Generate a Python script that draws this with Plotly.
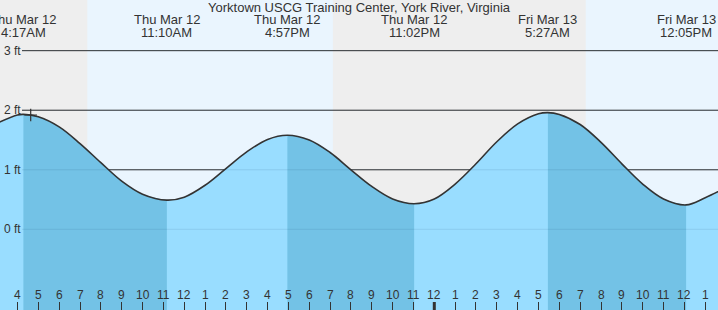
import plotly.graph_objects as go
import pandas as pd

# ---------------- data ----------------
title = "Yorktown USCG Training Center, York River, Virginia"

curve_times = [
    "2026-03-12 03:00", "2026-03-12 04:00", "2026-03-12 04:17", "2026-03-12 05:00",
    "2026-03-12 06:00", "2026-03-12 07:00", "2026-03-12 08:00", "2026-03-12 09:00",
    "2026-03-12 10:00", "2026-03-12 11:10", "2026-03-12 12:00", "2026-03-12 13:00",
    "2026-03-12 14:00", "2026-03-12 15:00", "2026-03-12 16:00", "2026-03-12 16:57",
    "2026-03-12 18:00", "2026-03-12 19:00", "2026-03-12 20:00", "2026-03-12 21:00",
    "2026-03-12 22:00", "2026-03-12 23:02", "2026-03-13 00:00", "2026-03-13 01:00",
    "2026-03-13 02:00", "2026-03-13 03:00", "2026-03-13 04:00", "2026-03-13 05:00",
    "2026-03-13 05:27", "2026-03-13 06:00", "2026-03-13 07:00", "2026-03-13 08:00",
    "2026-03-13 09:00", "2026-03-13 10:00", "2026-03-13 11:00", "2026-03-13 12:05",
    "2026-03-13 13:00", "2026-03-13 14:00",
]
curve_ft = [
    1.78, 1.92, 1.93, 1.89,
    1.72, 1.44, 1.12, 0.81,
    0.59, 0.49, 0.54, 0.74,
    1.02, 1.30, 1.51, 1.58,
    1.50, 1.29, 1.00, 0.72,
    0.51, 0.43, 0.51, 0.76,
    1.10, 1.47, 1.77, 1.94,
    1.96, 1.93, 1.76, 1.46,
    1.10, 0.76, 0.51, 0.41,
    0.53, 0.70,
]

extreme_times = ["2026-03-12 04:17", "2026-03-12 11:10", "2026-03-12 16:57",
                 "2026-03-12 23:02", "2026-03-13 05:27", "2026-03-13 12:05"]
extreme_kind = ["H", "L", "H", "L", "H", "L"]
extreme_day_labels = ["Thu Mar 12", "Thu Mar 12", "Thu Mar 12",
                      "Thu Mar 12", "Fri Mar 13", "Fri Mar 13"]
extreme_time_labels = ["4:17AM", "11:10AM", "4:57PM", "11:02PM", "5:27AM", "12:05PM"]

# sunrise / sunset / sunrise
sun_times = ["2026-03-12 07:21", "2026-03-12 19:08", "2026-03-13 07:16"]

hour_ticks = pd.date_range("2026-03-12 04:00", "2026-03-13 13:00", freq="h")
hour_labels = ["4", "5", "6", "7", "8", "9", "10", "11", "12", "1", "2", "3",
               "4", "5", "6", "7", "8", "9", "10", "11", "12", "1", "2", "3",
               "4", "5", "6", "7", "8", "9", "10", "11", "12", "1"]
midnight = "2026-03-13 00:00"

ft_levels = [0, 1, 2, 3]
ft_labels = ["0 ft", "1 ft", "2 ft", "3 ft"]

now_time = "2026-03-12 04:38"
now_ft = 1.92

# ---------------- style ----------------
W, H = 718, 310
x_range = ["2026-03-12 03:09:37", "2026-03-13 13:36:47"]
y_range = [-1.355, 3.851]
NIGHT = "#EEEEEE"
DAY = "#EAF5FE"
LIGHT = "#99DDFF"
DARK = "#73C2E6"
INK = "#333333"
FONT = "Liberation Sans, Arial, sans-serif"

fig = go.Figure()
base_y = y_range[0] - 1

# light fill under whole curve
fig.add_trace(go.Scatter(x=[curve_times[0], curve_times[-1]], y=[base_y, base_y],
                         mode="lines", line=dict(width=0), hoverinfo="skip", showlegend=False))
fig.add_trace(go.Scatter(x=curve_times, y=curve_ft, mode="lines", fill="tonexty",
                         fillcolor=LIGHT, line=dict(width=0, shape="spline"),
                         hoverinfo="skip", showlegend=False))

# dark fill for falling tide (high -> next low)
for i in range(len(extreme_times) - 1):
    if extreme_kind[i] == "H" and extreme_kind[i + 1] == "L":
        a = curve_times.index(extreme_times[i])
        b = curve_times.index(extreme_times[i + 1])
        fig.add_trace(go.Scatter(x=[curve_times[a], curve_times[b]], y=[base_y, base_y],
                                 mode="lines", line=dict(width=0), hoverinfo="skip",
                                 showlegend=False))
        fig.add_trace(go.Scatter(x=curve_times[a:b + 1], y=curve_ft[a:b + 1], mode="lines",
                                 fill="tonexty", fillcolor=DARK,
                                 line=dict(width=0, shape="spline"),
                                 hoverinfo="skip", showlegend=False))

# tide curve line
fig.add_trace(go.Scatter(x=curve_times, y=curve_ft, mode="lines",
                         line=dict(color=INK, width=1.6, shape="spline"),
                         hoverinfo="skip", showlegend=False))

# current-time marker
fig.add_trace(go.Scatter(x=[now_time], y=[now_ft], mode="markers",
                         marker=dict(symbol="cross-thin", size=9,
                                     line=dict(color=INK, width=1.2)),
                         hoverinfo="skip", showlegend=False))

shapes = []
# daytime backgrounds
day_spans = [(sun_times[0], sun_times[1]), (sun_times[2], x_range[1])]
for s, e in day_spans:
    shapes.append(dict(type="rect", xref="x", yref="paper", x0=s, x1=e, y0=0, y1=1,
                       fillcolor=DAY, line=dict(width=0), layer="below"))
# level lines (dark above the water)
for lv in ft_levels:
    shapes.append(dict(type="line", xref="paper", yref="y", x0=22 / W, x1=1, y0=lv, y1=lv,
                       line=dict(color=INK, width=1), layer="below"))
# faint level lines visible through the water
for lv in ft_levels:
    shapes.append(dict(type="line", xref="paper", yref="y", x0=22 / W, x1=1, y0=lv, y1=lv,
                       line=dict(color="rgba(0,50,90,0.10)", width=1), layer="above"))
# midnight tick
shapes.append(dict(type="line", xref="x", yref="paper", x0=midnight, x1=midnight,
                   y0=0, y1=8 / H, line=dict(color=INK, width=3), layer="above"))

annotations = []
annotations.append(dict(text=title, xref="paper", yref="paper", x=0.5, y=1 - 8 / H,
                        xanchor="center", yanchor="middle", showarrow=False,
                        font=dict(family=FONT, size=13, color=INK)))
for t, d, tl in zip(extreme_times, extreme_day_labels, extreme_time_labels):
    annotations.append(dict(text=d, xref="x", yref="paper", x=t, y=1 - 20 / H,
                            xanchor="center", yanchor="middle", showarrow=False,
                            font=dict(family=FONT, size=13, color=INK)))
    annotations.append(dict(text=tl, xref="x", yref="paper", x=t, y=1 - 32 / H,
                            xanchor="center", yanchor="middle", showarrow=False,
                            font=dict(family=FONT, size=13, color=INK)))
for lv, lab in zip(ft_levels, ft_labels):
    annotations.append(dict(text=lab, xref="paper", yref="y", x=0, y=lv, xshift=2,
                            xanchor="left", yanchor="middle", showarrow=False,
                            font=dict(family=FONT, size=12, color=INK)))
for t, lab in zip(hour_ticks, hour_labels):
    annotations.append(dict(text=lab, xref="x", yref="paper", x=t, y=15 / H,
                            xanchor="center", yanchor="middle", showarrow=False,
                            font=dict(family=FONT, size=12, color=INK)))

fig.update_layout(
    width=W, height=H,
    margin=dict(l=0, r=0, t=0, b=0, pad=0),
    paper_bgcolor="white", plot_bgcolor=NIGHT,
    shapes=shapes, annotations=annotations,
    xaxis=dict(type="date", range=x_range, showgrid=False, zeroline=False, showline=False,
               tickmode="array", tickvals=list(hour_ticks), ticktext=[""] * len(hour_ticks),
               ticks="inside", ticklen=8, tickwidth=1, tickcolor=INK,
               showticklabels=False, fixedrange=True),
    yaxis=dict(range=y_range, showgrid=False, zeroline=False, showline=False,
               showticklabels=False, ticks="", fixedrange=True),
    showlegend=False,
)

fig.write_html("out.html", config={"displayModeBar": False})
